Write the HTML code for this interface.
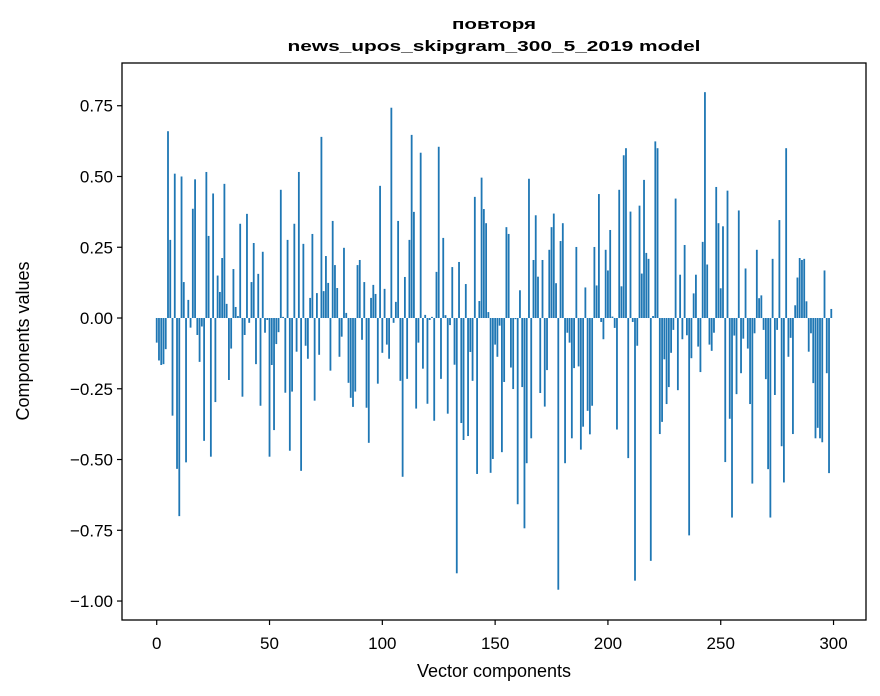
<!DOCTYPE html>
<html><head><meta charset="utf-8"><style>
html,body{margin:0;padding:0;background:#fff;}
svg{display:block;font-family:"Liberation Sans","DejaVu Sans",sans-serif;}
</style></head><body>
<svg id="chart" width="880" height="696" viewBox="0 0 880 696" xmlns="http://www.w3.org/2000/svg">
<rect x="0" y="0" width="880" height="696" fill="#fff"/>
<text x="494" y="29" text-anchor="middle" font-weight="bold" font-size="15" textLength="84" lengthAdjust="spacingAndGlyphs">повторя</text>
<text x="494" y="51" text-anchor="middle" font-weight="bold" font-size="15" textLength="413" lengthAdjust="spacingAndGlyphs">news_upos_skipgram_300_5_2019 model</text>
<g id="bars"></g>
<g id="xticks"></g>
<g id="yticks"></g>
<rect x="122" y="63" width="744" height="557" fill="none" stroke="#000" stroke-width="1.3"/>
<text x="494" y="677" text-anchor="middle" font-size="18">Vector components</text>
<text transform="translate(29,341) rotate(-90)" text-anchor="middle" font-size="18">Components values</text>
</svg>
<script>
const values = [
-0.087,-0.15,-0.166,-0.163,-0.11,0.66,0.276,-0.345,0.51,-0.533,
-0.70,0.50,0.127,-0.51,0.064,-0.034,0.386,0.49,-0.06,-0.155,
-0.03,-0.434,0.516,0.29,-0.49,0.44,-0.297,0.15,0.092,0.212,
0.474,0.05,-0.219,-0.108,0.173,0.039,0.007,0.333,-0.278,-0.06,
0.368,-0.017,0.127,0.265,-0.163,0.156,-0.31,0.234,-0.052,-0.007,
-0.49,-0.166,-0.396,-0.092,-0.05,0.453,0.004,-0.264,0.276,-0.469,
-0.26,0.333,-0.119,0.516,-0.54,0.262,-0.098,-0.144,0.071,0.297,
-0.292,0.088,-0.13,0.64,0.095,0.219,0.124,-0.186,0.343,0.187,
0.106,-0.137,-0.066,0.248,0.018,-0.229,-0.282,-0.314,-0.26,0.187,
0.205,-0.077,0.127,-0.317,-0.441,0.071,0.117,0.085,-0.232,0.467,
-0.123,0.103,-0.094,-0.144,0.743,-0.017,0.057,0.343,-0.222,-0.561,
0.145,-0.215,0.276,0.647,0.375,-0.32,-0.087,0.584,-0.179,0.011,
-0.303,-0.007,0.004,-0.363,0.163,0.605,-0.215,0.283,0.01,-0.338,
-0.025,0.180,-0.165,-0.902,0.198,-0.371,-0.431,0.12,-0.417,-0.12,
-0.222,0.428,-0.551,0.06,0.496,0.385,0.335,0.021,-0.547,-0.498,
-0.094,-0.137,-0.027,-0.474,-0.226,0.321,0.297,-0.175,-0.251,-0.004,
-0.658,0.098,-0.244,-0.743,-0.513,0.492,-0.425,0.205,0.363,0.146,
-0.265,0.205,-0.313,-0.184,0.241,0.321,0.369,0.123,-0.96,0.272,
0.335,-0.513,-0.052,-0.087,-0.425,-0.177,0.251,-0.171,-0.465,-0.384,
0.108,-0.328,-0.411,-0.31,0.251,0.115,0.438,-0.014,-0.075,0.241,
0.168,0.311,0.005,-0.035,-0.394,0.453,0.112,0.575,0.6,-0.495,
0.376,-0.014,-0.928,-0.098,0.397,0.157,0.488,0.23,0.209,-0.858,
0.007,0.624,0.6,-0.41,-0.367,-0.146,-0.304,-0.244,-0.123,-0.042,
0.422,-0.255,0.153,-0.075,0.258,-0.061,-0.768,-0.142,0.087,0.153,
-0.101,-0.191,0.269,0.798,0.189,-0.094,-0.116,-0.052,0.463,0.335,
0.105,0.324,-0.509,0.45,-0.356,-0.705,-0.062,-0.269,0.38,-0.195,
-0.073,0.175,-0.108,-0.304,-0.585,-0.054,0.241,0.07,0.08,-0.042,
-0.216,-0.534,-0.705,0.209,-0.272,-0.042,0.346,-0.453,-0.581,0.6,
-0.137,-0.07,-0.41,0.045,0.143,0.212,0.205,0.209,0.059,-0.119,
-0.054,-0.23,-0.425,-0.388,-0.425,-0.439,0.168,-0.195,-0.548,0.032
];
const xTickValues = [0,50,100,150,200,250,300];
const xTickLabels = ["0","50","100","150","200","250","300"];
const yTickValues = [0.75,0.5,0.25,0,-0.25,-0.5,-0.75,-1.0];
const yTickLabels = ["0.75","0.50","0.25","0.00","\u22120.25","\u22120.50","\u22120.75","\u22121.00"];

const NS = "http://www.w3.org/2000/svg";
const L = 122, R = 866, T = 63, B = 620;
const n = values.length;
const xmin = -0.4 - 0.05 * (n - 1 + 0.8), xmax = n - 1 + 0.4 + 0.05 * (n - 1 + 0.8);
const ymin = -1.067, ymax = 0.901;
function xs(v) { return L + (v - xmin) / (xmax - xmin) * (R - L); }
function ys(v) { return B - (v - ymin) / (ymax - ymin) * (B - T); }

const gb = document.getElementById('bars');
values.forEach(function (v, i) {
  const r = document.createElementNS(NS, 'rect');
  const x0 = xs(i - 0.4), x1 = xs(i + 0.4);
  const y0 = ys(Math.max(0, v)), y1 = ys(Math.min(0, v));
  r.setAttribute('x', x0);
  r.setAttribute('y', y0);
  r.setAttribute('width', x1 - x0);
  r.setAttribute('height', Math.max(0.01, y1 - y0));
  r.setAttribute('fill', '#1f77b4');
  
  
  gb.appendChild(r);
});

const gx = document.getElementById('xticks');
xTickValues.forEach(function (v, k) {
  const x = xs(v);
  const ln = document.createElementNS(NS, 'line');
  ln.setAttribute('x1', x); ln.setAttribute('x2', x);
  ln.setAttribute('y1', B); ln.setAttribute('y2', B + 5);
  ln.setAttribute('stroke', '#000'); ln.setAttribute('stroke-width', '1.2');
  
  
  gx.appendChild(ln);
  const t = document.createElementNS(NS, 'text');
  t.setAttribute('x', x); t.setAttribute('y', B + 29);
  t.setAttribute('text-anchor', 'middle'); t.setAttribute('font-size', '17');
  t.textContent = xTickLabels[k];
  
  
  gx.appendChild(t);
});

const gy = document.getElementById('yticks');
yTickValues.forEach(function (v, k) {
  const y = ys(v);
  const ln = document.createElementNS(NS, 'line');
  ln.setAttribute('x1', L - 5); ln.setAttribute('x2', L);
  ln.setAttribute('y1', y); ln.setAttribute('y2', y);
  ln.setAttribute('stroke', '#000'); ln.setAttribute('stroke-width', '1.2');
  
  
  gy.appendChild(ln);
  const t = document.createElementNS(NS, 'text');
  t.setAttribute('x', L - 9); t.setAttribute('y', y + 6);
  t.setAttribute('text-anchor', 'end'); t.setAttribute('font-size', '17');
  t.textContent = yTickLabels[k];
  
  
  gy.appendChild(t);
});
</script>
</body></html>
